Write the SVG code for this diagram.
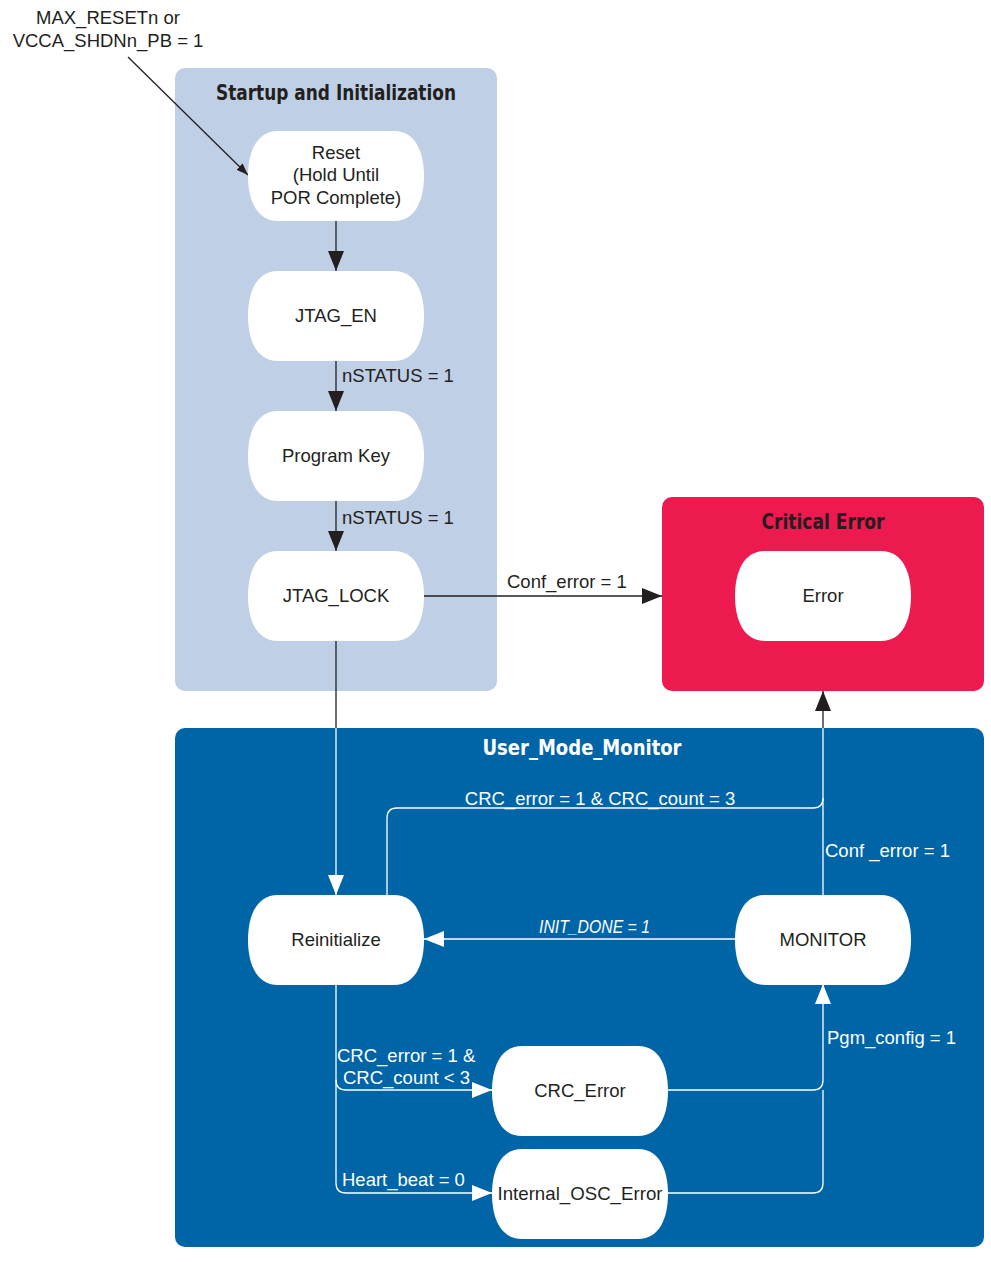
<svg xmlns="http://www.w3.org/2000/svg" xmlns:xlink="http://www.w3.org/1999/xlink" width="991" height="1262" viewBox="0 0 991 1262">
<style>
.lbl{font-family:"Liberation Sans",Arial,sans-serif;font-size:18.5px;fill:#231f20}
.lblw{font-family:"Liberation Sans",Arial,sans-serif;font-size:18.5px;fill:#ffffff}
.ntxt{font-family:"Liberation Sans",Arial,sans-serif;font-size:18.5px;fill:#231f20;text-anchor:middle}
.title{font-family:"DejaVu Sans Condensed","Liberation Sans",sans-serif;font-weight:bold;font-size:22px;text-anchor:middle}
.node{fill:#ffffff}
.ck{fill:none;stroke:#231f20;stroke-width:1.3}
.cw{fill:none;stroke:#ffffff;stroke-width:1.3}
</style>
<defs>
<path id="pill" d="M30,0 H146 C168,0 176,22 176,45 C176,68 168,90 146,90 H30 C8,90 0,68 0,45 C0,22 8,0 30,0 Z"/>
<marker id="ab" markerUnits="userSpaceOnUse" markerWidth="20" markerHeight="16" refX="20" refY="8" orient="auto"><path d="M0,0 L20,8 L0,16 Z" fill="#231f20"/></marker>
<marker id="aw" markerUnits="userSpaceOnUse" markerWidth="20" markerHeight="16" refX="20" refY="8" orient="auto"><path d="M0,0 L20,8 L0,16 Z" fill="#ffffff"/></marker>
<marker id="as" markerUnits="userSpaceOnUse" markerWidth="12" markerHeight="9" refX="12" refY="4.5" orient="auto"><path d="M0,0 L12,4.5 L0,9 Z" fill="#231f20"/></marker>
</defs>
<rect width="991" height="1262" fill="#ffffff"/>
<g id="startup-group">
<rect x="175" y="68" width="322" height="623" rx="10" fill="#bfcfe5"/>
<text class="title" x="336" y="100" fill="#231f20" textLength="240" lengthAdjust="spacingAndGlyphs">Startup and Initialization</text>
</g>
<g id="critical-group">
<rect x="662" y="497" width="322" height="194" rx="10" fill="#ec1a4f"/>
<text class="title" x="823" y="529" fill="#231f20" textLength="123" lengthAdjust="spacingAndGlyphs">Critical Error</text>
</g>
<g id="user-group">
<rect x="175" y="728" width="809" height="519" rx="10" fill="#0065a7"/>
<text class="title" x="582" y="755" fill="#ffffff" textLength="199" lengthAdjust="spacingAndGlyphs">User_Mode_Monitor</text>
</g>
<g id="connectors">
<path class="ck" d="M128,57 L248,175" marker-end="url(#as)"/>
<path class="ck" d="M336,221 V271" marker-end="url(#ab)"/>
<path class="ck" d="M336,361 V411" marker-end="url(#ab)"/>
<path class="ck" d="M336,501 V551" marker-end="url(#ab)"/>
<path class="ck" d="M424,596 H662" marker-end="url(#ab)"/>
<path class="ck" d="M336,641 V728"/>
<path class="cw" d="M336,728 V895" marker-end="url(#aw)"/>
<path class="cw" d="M387,895 V818 Q387,808 397,808 H813 Q823,808 823,798"/>
<path class="cw" d="M823,895 V728"/>
<path class="ck" d="M823,728 V691" marker-end="url(#ab)"/>
<path class="cw" d="M735,939 H424" marker-end="url(#aw)"/>
<path class="cw" d="M336,984 V1080 Q336,1090 346,1090 H492" marker-end="url(#aw)"/>
<path class="cw" d="M336,1080 V1183 Q336,1193 346,1193 H492" marker-end="url(#aw)"/>
<path class="cw" d="M667,1090 H813 Q823,1090 823,1080 V984" marker-end="url(#aw)"/>
<path class="cw" d="M667,1193 H813 Q823,1193 823,1183 V1090"/>
<text class="lbl" x="108" y="24" text-anchor="middle">MAX_RESETn or</text>
<text class="lbl" x="108" y="47" text-anchor="middle">VCCA_SHDNn_PB = 1</text>
<text class="lbl" x="342" y="382">nSTATUS = 1</text>
<text class="lbl" x="342" y="524">nSTATUS = 1</text>
<text class="lbl" x="507" y="588">Conf_error = 1</text>
<text class="lblw" x="600" y="805" text-anchor="middle">CRC_error = 1 &amp; CRC_count = 3</text>
<text class="lblw" x="825" y="857">Conf _error = 1</text>
<text class="lblw" x="539" y="933" font-style="italic" textLength="111" lengthAdjust="spacingAndGlyphs">INIT_DONE = 1</text>
<text class="lblw" x="337" y="1062">CRC_error = 1 &amp;</text>
<text class="lblw" x="343" y="1084">CRC_count &lt; 3</text>
<text class="lblw" x="342" y="1186">Heart_beat = 0</text>
<text class="lblw" x="827" y="1044">Pgm_config = 1</text>
</g>
<g id="reset"><use xlink:href="#pill" x="248" y="131" class="node"/>
<text class="ntxt" x="336" y="159">Reset</text><text class="ntxt" x="336" y="181">(Hold Until</text><text class="ntxt" x="336" y="204">POR Complete)</text></g>
<g id="jtag_en"><use xlink:href="#pill" x="248" y="271" class="node"/><text class="ntxt" x="336" y="322">JTAG_EN</text></g>
<g id="program_key"><use xlink:href="#pill" x="248" y="411" class="node"/><text class="ntxt" x="336" y="462">Program Key</text></g>
<g id="jtag_lock"><use xlink:href="#pill" x="248" y="551" class="node"/><text class="ntxt" x="336" y="602">JTAG_LOCK</text></g>
<g id="error"><use xlink:href="#pill" x="735" y="551" class="node"/><text class="ntxt" x="823" y="602">Error</text></g>
<g id="reinitialize"><use xlink:href="#pill" x="248" y="895" class="node"/><text class="ntxt" x="336" y="946">Reinitialize</text></g>
<g id="monitor"><use xlink:href="#pill" x="735" y="895" class="node"/><text class="ntxt" x="823" y="946">MONITOR</text></g>
<g id="crc_error"><use xlink:href="#pill" x="492" y="1046" class="node"/><text class="ntxt" x="580" y="1097">CRC_Error</text></g>
<g id="internal_osc_error"><use xlink:href="#pill" x="492" y="1149" class="node"/><text class="ntxt" x="580" y="1200" textLength="165" lengthAdjust="spacingAndGlyphs">Internal_OSC_Error</text></g>
</svg>
